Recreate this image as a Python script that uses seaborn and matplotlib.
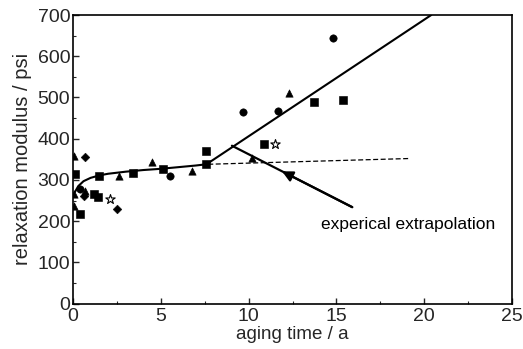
import matplotlib
matplotlib.use("Agg")
import matplotlib.pyplot as plt
import seaborn as sns
import pandas as pd
from matplotlib.ticker import MultipleLocator

# ---- data ----
circle_x = [0.4, 5.5, 9.7, 11.7, 14.8]
circle_y = [278, 309, 464, 468, 645]
square_x = [0.1, 0.4, 1.2, 1.4, 1.5, 3.4, 5.1, 7.6, 7.6, 10.9, 13.7, 15.4]
square_y = [314, 217, 266, 258, 309, 318, 326, 370, 338, 386, 490, 493]
triangle_x = [0.05, 0.05, 0.05, 0.7, 2.6, 4.5, 6.8, 10.2, 12.3]
triangle_y = [357, 266, 237, 273, 309, 343, 321, 352, 512]
diamond_x = [0.7, 0.6, 2.5]
diamond_y = [355, 261, 229]
star_x = [2.1, 11.5]
star_y = [254, 386]

curve_x = [0.1, 0.3, 0.6, 1.0, 1.5, 2.0, 3.0, 4.0, 5.0, 6.0, 7.0, 7.6]
curve_y = [270, 285, 297, 305, 311, 315, 320, 324, 327, 331, 335, 338]
rise_x = [7.6, 20.4]
rise_y = [338, 700]
dash_x = [7.7, 19.2]
dash_y = [338, 352]
extrap_x = [9.05, 15.9]
extrap_y = [383, 234]
arrow_tip = (11.9, 321)
label_text = "experical extrapolation"
label_pos = (14.1, 193)

sns.set_theme(style="ticks")
plt.rcParams['font.family'] = ['Liberation Sans', 'DejaVu Sans']

fig, ax = plt.subplots(figsize=(5.23, 3.49), dpi=100)
fig.subplots_adjust(left=0.1396, right=0.979, top=0.957, bottom=0.13)

ms = 28
sns.scatterplot(x=circle_x, y=circle_y, marker='o', color='black', s=ms, edgecolor='black', ax=ax, zorder=3)
sns.scatterplot(x=square_x, y=square_y, marker='s', color='black', s=ms, edgecolor='black', ax=ax, zorder=3)
sns.scatterplot(x=triangle_x, y=triangle_y, marker='^', color='black', s=ms, edgecolor='black', ax=ax, zorder=3)
sns.scatterplot(x=diamond_x, y=diamond_y, marker='D', color='black', s=ms * 0.7, edgecolor='black', ax=ax, zorder=3)
sns.scatterplot(x=star_x, y=star_y, marker='*', color='white', s=ms * 1.8, edgecolor='black', linewidth=0.8, ax=ax, zorder=3)

sns.lineplot(x=curve_x, y=curve_y, color='black', lw=1.5, sort=False, estimator=None, ax=ax)
sns.lineplot(x=rise_x, y=rise_y, color='black', lw=1.5, sort=False, estimator=None, ax=ax)
sns.lineplot(x=dash_x, y=dash_y, color='black', lw=0.9, linestyle=(0, (4, 2)), sort=False, estimator=None, ax=ax)
sns.lineplot(x=extrap_x, y=extrap_y, color='black', lw=1.6, sort=False, estimator=None, ax=ax)
ax.annotate('', xy=arrow_tip, xytext=(extrap_x[1], extrap_y[1]),
            arrowprops=dict(arrowstyle='-|>', color='black', lw=1.6, mutation_scale=16,
                            shrinkA=0, shrinkB=0))
ax.text(label_pos[0], label_pos[1], label_text, fontsize=12.5, va='center', ha='left', color='black')

ax.set_xlim(0, 25)
ax.set_ylim(0, 700)
ax.xaxis.set_major_locator(MultipleLocator(5))
ax.xaxis.set_minor_locator(MultipleLocator(2.5))
ax.yaxis.set_major_locator(MultipleLocator(100))
ax.yaxis.set_minor_locator(MultipleLocator(50))
ax.tick_params(which='major', direction='in', length=4, width=1, labelsize=14, pad=2)
ax.tick_params(axis='x', which='major', pad=3.5)
ax.tick_params(which='minor', direction='in', length=2, width=0.8)
for sp in ax.spines.values():
    sp.set_visible(True)
    sp.set_linewidth(1.2)
    sp.set_color('black')

ax.set_xlabel('aging time / a', fontsize=13.5, labelpad=0.5)
ax.set_ylabel('relaxation modulus / psi', fontsize=14.5, labelpad=4)

fig.savefig('out.png', dpi=100)
